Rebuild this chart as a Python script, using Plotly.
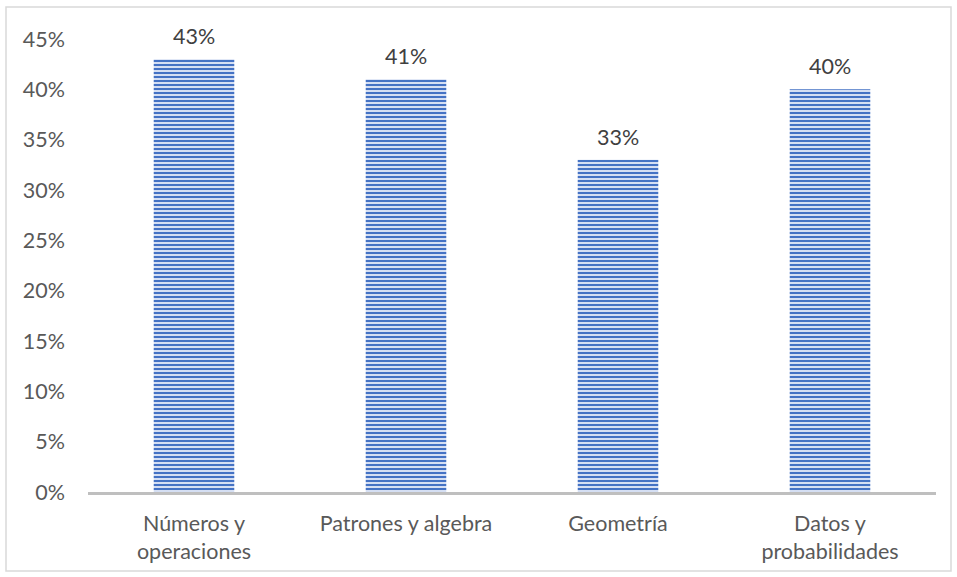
import plotly.graph_objects as go

categories = ["Números y<br>operaciones", "Patrones y algebra", "Geometría", "Datos y<br>probabilidades"]
values = [0.43, 0.41, 0.33, 0.40]
labels = ["43%", "41%", "33%", "40%"]
tick_vals = [0, 0.05, 0.10, 0.15, 0.20, 0.25, 0.30, 0.35, 0.40, 0.45]
tick_text = ["0%", "5%", "10%", "15%", "20%", "25%", "30%", "35%", "40%", "45%"]

FONT = "Lato, Open Sans, sans-serif"
FS = 21.5

fig = go.Figure()
fig.add_trace(go.Bar(
    x=categories, y=values,
    cliponaxis=False,
    marker=dict(
        color="#4472C4",
        line=dict(width=0),
        pattern=dict(shape="-", fgcolor="#4472C4", bgcolor="#d5dff3",
                     size=4, solidity=0.5, fillmode="replace"),
    ),
    hoverinfo="skip",
))

annotations = [dict(x=c, y=v, xref="x", yref="y", text=t, showarrow=False,
                    yanchor="middle", yshift=23,
                    font=dict(family=FONT, size=FS, color="#404040"))
               for c, v, t in zip(categories, values, labels)]

fig.update_layout(
    width=957, height=577,
    margin=dict(l=88, r=21, t=39, b=85),
    paper_bgcolor="white", plot_bgcolor="white",
    bargap=0.62,
    showlegend=False,
    font=dict(family=FONT, size=FS, color="#595959"),
    xaxis=dict(showline=True, linecolor="#bfbfbf", linewidth=2.5, ticks="",
               tickfont=dict(family=FONT, size=FS, color="#595959"),
               showgrid=False, zeroline=False, ticklabelstandoff=10),
    yaxis=dict(range=[0, 0.45], tickvals=tick_vals, ticktext=tick_text,
               showgrid=False, zeroline=False, showline=False, ticks="",
               tickfont=dict(family=FONT, size=FS, color="#595959"),
               ticklabelstandoff=22),
    annotations=annotations,
    shapes=[dict(type="rect", xref="paper", yref="paper",
                 x0=-0.0967, x1=1.0177, y0=-0.1744, y1=1.0706,
                 line=dict(color="#d9d9d9", width=1.5), fillcolor="rgba(0,0,0,0)")],
)

fig.write_html("out.html", config={"displayModeBar": False},
               post_script="document.body.style.margin='0';document.body.style.overflow='hidden';")
